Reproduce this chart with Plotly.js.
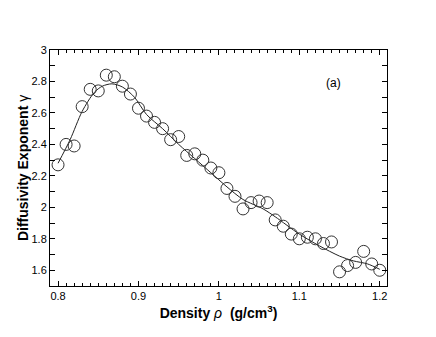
<!DOCTYPE html>
<html>
<head>
<meta charset="utf-8">
<script src="https://cdn.plot.ly/plotly-3.0.1.min.js"></script>
<style>
  html, body { margin: 0; padding: 0; background: #fff; }
  #chart { width: 436px; height: 337px; }
</style>
</head>
<body>
<div id="chart"></div>
<script>
// measured points (density, exponent)
const density = [0.80, 0.81, 0.82, 0.83, 0.84, 0.85, 0.86, 0.87, 0.88, 0.89,
                 0.90, 0.91, 0.92, 0.93, 0.94, 0.95, 0.96, 0.97, 0.98, 0.99,
                 1.00, 1.01, 1.02, 1.03, 1.04, 1.05, 1.06, 1.07, 1.08, 1.09,
                 1.10, 1.11, 1.12, 1.13, 1.14, 1.15, 1.16, 1.17, 1.18, 1.19, 1.20];
const gamma = [2.27, 2.40, 2.39, 2.64, 2.75, 2.74, 2.84, 2.83, 2.77, 2.72,
               2.63, 2.58, 2.54, 2.50, 2.43, 2.45, 2.33, 2.34, 2.30, 2.25,
               2.22, 2.12, 2.07, 1.99, 2.03, 2.04, 2.03, 1.92, 1.88, 1.83,
               1.80, 1.81, 1.80, 1.77, 1.78, 1.59, 1.63, 1.65, 1.72, 1.64, 1.60];

// smooth fit curve
const fitX = [0.80, 0.815, 0.83, 0.845, 0.855, 0.867, 0.88, 0.895, 0.91, 0.93,
              0.95, 0.97, 0.99, 1.01, 1.03, 1.055, 1.07, 1.10, 1.125, 1.15,
              1.167, 1.185, 1.20];
const fitY = [2.28, 2.43, 2.61, 2.73, 2.77, 2.785, 2.765, 2.70, 2.59, 2.50,
              2.40, 2.31, 2.22, 2.13, 2.05, 1.99, 1.94, 1.83, 1.755, 1.69,
              1.66, 1.64, 1.606];

const xTicks = [0.8, 0.9, 1, 1.1, 1.2];
const xTickText = ['0.8', '0.9', '1', '1.1', '1.2'];
const yTicks = [1.6, 1.8, 2, 2.2, 2.4, 2.6, 2.8, 3];
const yTickText = ['1.6', '1.8', '2', '2.2', '2.4', '2.6', '2.8', '3'];

const FONT = 'Liberation Sans, Arial, sans-serif';

const fit = {
    x: fitX,
    y: fitY,
    mode: 'lines',
    line: { color: '#222', width: 1, shape: 'spline', smoothing: 0.8 },
    hoverinfo: 'skip'
};

const pts = {
    x: density,
    y: gamma,
    mode: 'markers',
    marker: { symbol: 'circle-open', size: 12, color: '#333', line: { width: 1 } }
};

const axisBase = {
    showgrid: false,
    zeroline: false,
    showline: true,
    linecolor: '#000',
    linewidth: 1,
    mirror: 'ticks',
    ticks: 'inside',
    ticklen: 5,
    tickcolor: '#000',
    tickfont: { family: FONT, size: 11, color: '#000' }
};

const layout = {
    width: 436,
    height: 337,
    margin: { l: 50, r: 49, t: 50, b: 51 },
    paper_bgcolor: '#fff',
    plot_bgcolor: '#fff',
    showlegend: false,
    xaxis: Object.assign({}, axisBase, {
        range: [0.79, 1.209],
        tickvals: xTicks,
        ticktext: xTickText,
        minor: { dtick: 0.01, tick0: 0.8, ticks: 'inside', ticklen: 3, tickcolor: '#000' },
        title: {
            text: '<b>Density</b> <i>ρ</i>  <b>(g/cm<sup>3</sup>)</b>',
            font: { family: FONT, size: 14, color: '#000' },
            standoff: 6
        }
    }),
    yaxis: Object.assign({}, axisBase, {
        range: [1.5, 3],
        tickvals: yTicks,
        ticktext: yTickText,
        minor: { dtick: 0.1, tick0: 1.5, ticks: 'inside', ticklen: 5, tickcolor: '#000' }
    }),
    annotations: [
        {
            text: '<b>Diffusivity Exponent</b> γ',
            xref: 'paper', yref: 'paper',
            x: -0.08, y: 0.5,
            xanchor: 'center', yanchor: 'middle',
            textangle: -90,
            showarrow: false,
            font: { family: FONT, size: 14, color: '#000' }
        },
        {
            text: '(a)',
            xref: 'paper', yref: 'paper',
            x: 0.84, y: 0.86,
            xanchor: 'center', yanchor: 'middle',
            showarrow: false,
            font: { family: FONT, size: 12, color: '#000' }
        }
    ]
};

Plotly.newPlot('chart', [fit, pts], layout, { displayModeBar: false, staticPlot: true });
</script>
</body>
</html>
